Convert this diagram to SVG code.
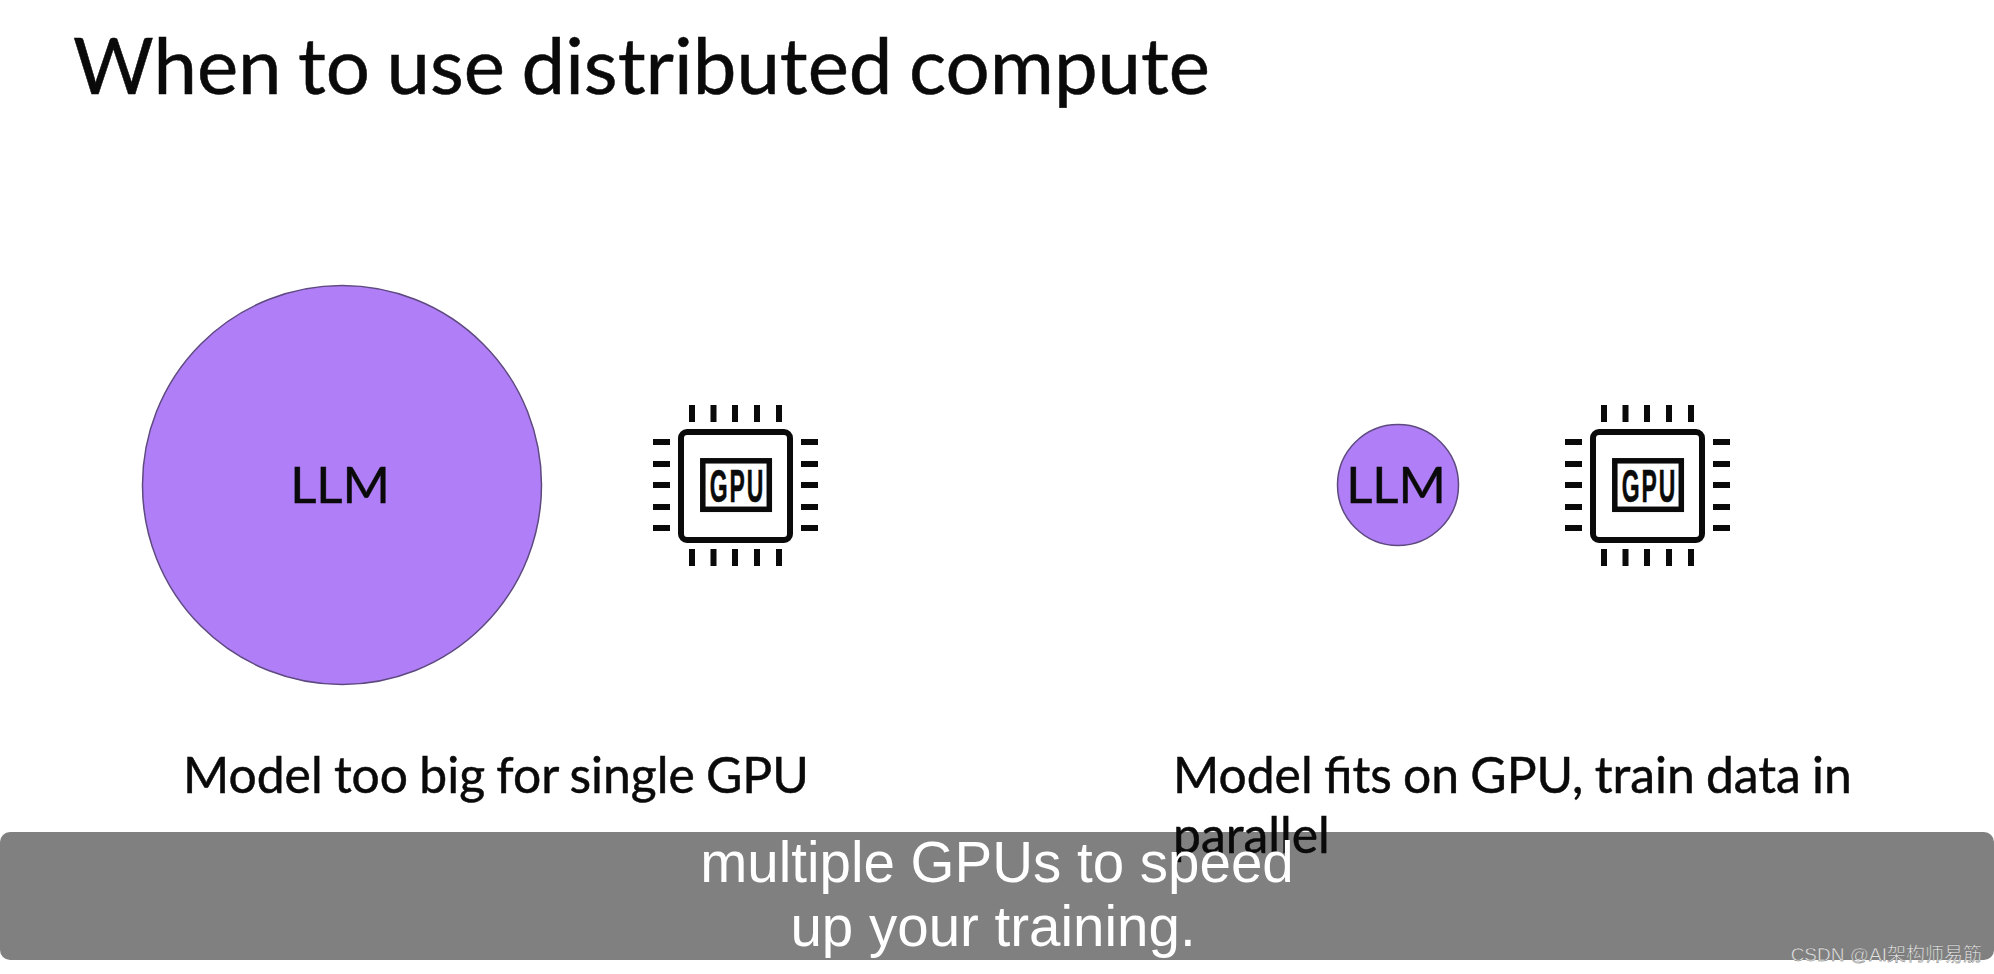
<svg xmlns="http://www.w3.org/2000/svg" width="1994" height="974" viewBox="0 0 1994 974">
<style>
.l{font-family:Lato,"Noto Sans",sans-serif;fill:#0a0a0a;stroke:#0a0a0a;stroke-width:.5}
.t{font-size:78px;word-spacing:-3.500px}
.b{font-size:49.800px;word-spacing:-1.500px}
.llm{font-size:51px;text-anchor:middle}
.c{fill:#b07ef6;stroke:#5e4a80;stroke-width:1.500}
.pin{stroke:#0a0a0a;stroke-width:6;fill:none}
.body{fill:#fff;stroke:#0a0a0a;stroke-width:6}
.inner{fill:#fff;stroke:#0a0a0a;stroke-width:5.500}
.g{font-family:"Liberation Sans",sans-serif;font-weight:700;font-size:37px;letter-spacing:3px;fill:#0a0a0a;stroke:#0a0a0a;stroke-width:.5;text-anchor:middle}
.s{font-family:"Liberation Sans",Arial,sans-serif;font-size:56.500px;fill:#fff;text-anchor:middle}
</style>
<defs>
<g id="chip">
<path class="pin" d="M692 405v17M713.500 405v17M735 405v17M757 405v17M779 405v17M692 549v17M713.500 549v17M735 549v17M757 549v17M779 549v17M653 442h17M653 464h17M653 485h17M653 507h17M653 528h17M801 442h17M801 464h17M801 485h17M801 507h17M801 528h17"/>
<rect class="body" x="681" y="432" width="109" height="108" rx="6"/>
<rect class="inner" x="702.800" y="460.800" width="66.500" height="48.500"/>
<text class="g" transform="translate(737.500 502) scale(.62 1.24)">GPU</text>
</g>
</defs>
<rect width="1994" height="974" fill="#fff"/>
<text class="l t" x="73" y="94">When to use distributed compute</text>
<g id="llm-large"><circle class="c" cx="342" cy="485" r="199.500"/><text class="l llm" x="340" y="503">LLM</text></g>
<g id="gpu-left"><use href="#chip"/></g>
<g id="llm-small"><circle class="c" cx="1398" cy="485" r="60.500"/><text class="l llm" x="1396" y="503">LLM</text></g>
<g id="gpu-right"><use href="#chip" x="912"/></g>
<g id="connectors"/>
<text class="l b" x="183" y="793">Model too big for single GPU</text>
<text class="l b" x="1173" y="793">Model fits on GPU, train data in</text>
<g id="caption">
<rect x="0" y="832" width="1994" height="128" rx="10" fill="#808080"/>
<text class="l b" x="1173" y="853">parallel</text>
<text class="s" x="997" y="882">multiple GPUs to speed</text>
<text class="s" x="993" y="946">up your training.</text>
<text x="1982" y="961" text-anchor="end" font-family="'Liberation Sans','Noto Sans CJK SC',sans-serif" font-size="19" fill="#e4e4e4" stroke="#666" stroke-width=".4">CSDN @AI架构师易筋</text>
</g>
</svg>
